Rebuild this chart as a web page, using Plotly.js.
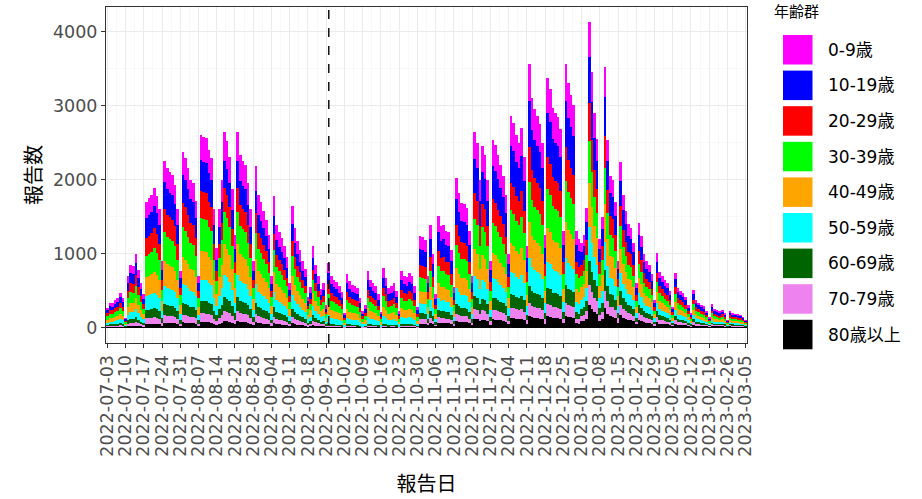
<!DOCTYPE html>
<html><head><meta charset="utf-8">
<script src="https://cdn.plot.ly/plotly-3.0.1.min.js"></script>
<style>html,body{margin:0;padding:0;background:#fff}#chart{width:922px;height:499px}</style>
</head><body><div id="chart"></div>
<script>
const ageGroups = ['0-9歳','10-19歳','20-29歳','30-39歳','40-49歳','50-59歳','60-69歳','70-79歳','80歳以上'];
const groupColors = ['#FF00FF','#0000FF','#FF0000','#00FF00','#FFA500','#00FFFF','#006400','#EE82EE','#000000'];
const firstDate = '2022-07-03';
const boundaryDate = '2022-09-26';
const yTicks = [0,1000,2000,3000,4000];

const age0_9 = [35,44,43,49,52,61,52, 18,91,111,108,130,101,78, 59,221,227,234,246,231,208, 117,293,280,273,267,251,208, 99,309,298,280,260,254,222, 91,338,335,333,312,298,208, 162,240,300,398,378,345,282, 188,398,350,338,330,293,240, 135,327,270,255,237,218,188, 105,267,209,194,182,165,143, 90,248,203,176,158,135,120, 63,83,165,128,105,78,90, 45,145,116,107,102,92,79, 33,119,104,96,92,89,66, 38,50,126,107,99,92,74, 36,134,111,89,92,99,83, 38,126,116,112,122,116,92, 46,173,171,167,98,195,140, 63,211,192,195,182,181,147, 77,283,255,236,234,227,182, 98,371,350,280,343,328,280, 126,356,346,326,308,287,252, 140,400,388,364,350,378,322, 154,498,434,413,400,386,350, 175,472,452,416,406,399,377, 182,500,462,441,421,182,168, 132,144,186,475,397,334,293, 138,173,406,292,236,230,196, 104,258,207,182,161,155,132, 69,163,143,115,104,98,83, 44,116,87,81,74,69,58, 32,85,62,58,54,48,35, 23,59,44,39,36,33,26, 16,36,29,28,25,28,23, 12,26,23,22,21,20,17, 12];
const age10_19 = [44,53,53,60,64,76,64, 21,112,137,133,160,125,96, 73,272,281,288,303,285,256, 144,362,344,336,330,309,256, 123,381,367,344,320,313,274, 112,416,413,410,384,367,256, 151,224,280,371,353,322,263, 175,371,326,315,308,273,224, 126,305,252,238,221,203,175, 98,249,195,181,169,154,133, 84,231,189,164,147,126,112, 59,77,154,119,98,73,84, 42,150,119,111,105,95,82, 34,122,107,99,95,92,68, 39,51,130,111,102,95,77, 37,138,115,92,95,102,85, 39,130,119,116,126,119,95, 48,216,214,208,123,243,175, 79,263,240,243,228,226,184, 96,354,319,295,292,284,228, 123,464,438,350,429,410,350, 158,445,432,408,385,359,315, 175,501,485,455,438,473,403, 193,623,543,516,501,483,438, 219,590,565,520,508,499,471, 228,625,578,551,527,228,210, 173,188,243,620,518,435,383, 180,225,530,381,308,300,255, 135,337,270,237,210,203,173, 90,212,186,150,135,128,108, 57,152,114,105,96,90,75, 42,111,81,75,71,63,45, 30,77,57,51,47,44,35, 21,47,38,36,33,37,30, 15,34,30,29,27,26,23, 15];
const age20_29 = [38,47,46,53,56,66,56, 19,98,119,116,140,109,84, 63,238,245,252,265,249,224, 126,316,301,294,288,270,224, 107,333,321,301,280,273,239, 98,364,361,358,336,321,224, 130,192,240,318,302,276,226, 150,318,280,270,264,234,192, 108,262,216,204,190,174,150, 84,214,167,155,145,132,114, 72,198,162,140,126,108,96, 50,66,132,102,84,62,72, 36,123,98,91,87,78,67, 28,101,88,81,78,76,56, 32,42,107,91,84,78,63, 31,113,95,76,78,84,70, 32,107,98,95,104,98,78, 39,161,159,155,91,181,130, 59,196,178,181,169,168,137, 72,263,237,219,217,211,169, 91,345,325,260,319,304,260, 117,330,321,303,286,267,234, 130,372,360,338,325,351,299, 143,463,403,384,372,359,325, 163,438,420,386,377,371,350, 169,464,429,410,391,169,156, 144,156,203,516,431,363,319, 150,188,441,318,256,250,213, 113,281,225,198,175,169,144, 75,177,155,125,113,106,90, 48,126,95,88,80,75,63, 35,93,68,63,59,53,38, 25,64,48,43,39,36,29, 18,39,31,30,28,31,25, 13,28,25,24,23,21,19, 13];
const age30_39 = [46,57,56,64,68,80,68, 23,119,145,141,170,133,102, 77,289,298,306,321,303,272, 153,384,366,357,350,328,272, 130,405,389,366,340,332,291, 119,442,439,435,408,389,272, 178,264,330,437,416,380,310, 206,437,384,371,363,322,264, 149,360,297,281,261,239,206, 116,294,229,213,200,182,157, 99,272,223,193,173,149,132, 69,91,182,140,116,86,99, 50,158,126,117,112,101,86, 36,130,113,104,101,97,72, 41,54,138,117,108,101,81, 40,146,122,97,101,108,90, 41,138,126,122,133,126,101, 50,191,189,184,109,215,155, 70,233,212,215,202,200,163, 85,313,282,261,259,251,202, 109,411,388,310,380,363,310, 140,394,383,361,341,318,279, 155,443,429,403,388,419,357, 171,552,481,457,443,428,388, 194,522,501,460,450,442,417, 202,553,512,488,467,202,186, 155,169,219,558,466,392,344, 162,203,477,343,277,270,230, 122,303,243,213,189,182,155, 81,191,167,135,122,115,97, 51,136,103,95,86,81,68, 38,100,73,68,63,57,41, 27,70,51,46,42,39,31, 19,43,34,32,30,33,27, 14,30,27,26,24,23,20, 14];
const age40_49 = [41,50,50,56,60,71,60, 20,105,128,125,150,117,90, 68,255,263,270,284,267,240, 135,339,323,315,309,290,240, 115,357,344,323,300,293,257, 105,390,387,384,360,344,240, 167,248,310,411,391,357,291, 194,411,361,349,341,302,248, 140,338,279,264,245,225,194, 109,276,215,200,188,171,147, 93,256,209,181,163,140,124, 65,85,171,132,109,81,93, 47,136,109,101,96,87,74, 31,112,98,90,87,84,62, 36,47,119,101,93,87,70, 34,126,105,84,87,93,78, 36,119,109,105,115,109,87, 43,167,165,161,95,188,135, 61,203,185,188,176,174,142, 74,273,246,227,225,219,176, 95,358,338,270,331,316,270, 122,343,333,315,297,277,243, 135,386,374,351,338,365,311, 149,481,419,398,386,373,338, 169,455,436,401,392,385,363, 176,482,446,425,406,176,162, 167,181,235,599,500,421,370, 174,218,512,368,297,290,247, 131,326,261,229,203,196,167, 87,205,180,145,131,123,104, 55,146,110,102,93,87,73, 41,107,78,73,68,61,44, 29,75,55,49,45,42,33, 20,46,36,35,32,36,29, 15,33,29,28,26,25,22, 15];
const age50_59 = [30,37,36,41,44,52,44, 15,77,94,91,110,86,66, 50,187,193,198,208,196,176, 99,249,237,231,227,212,176, 84,262,252,237,220,215,188, 77,286,284,282,264,252,176, 124,184,230,305,290,265,216, 144,305,268,259,253,224,184, 104,251,207,196,182,167,144, 81,205,160,148,139,127,109, 69,190,155,135,121,104,92, 48,63,127,98,81,60,69, 35,106,84,78,74,67,58, 24,86,76,70,67,65,48, 28,36,92,78,72,67,54, 26,97,81,65,67,72,60, 28,92,84,82,89,84,67, 34,130,128,125,74,146,105, 47,158,144,146,137,135,110, 58,212,191,177,175,170,137, 74,278,263,210,257,246,210, 95,267,259,245,231,215,189, 105,300,291,273,263,284,242, 116,374,326,310,300,290,263, 131,354,339,312,305,299,282, 137,375,347,331,316,137,126, 127,138,178,454,380,319,281, 132,165,388,279,226,220,187, 99,247,198,174,154,149,127, 66,156,136,110,99,94,79, 42,111,84,77,70,66,55, 31,81,59,55,52,46,33, 22,57,42,37,34,32,25, 15,35,28,26,24,27,22, 11,25,22,21,20,19,17, 11];
const age60_69 = [18,22,21,24,26,31,26, 9,46,55,54,65,51,39, 29,111,114,117,123,116,104, 59,147,140,137,134,125,104, 50,155,149,140,130,127,111, 46,169,168,166,156,149,104, 76,112,140,186,176,161,132, 88,186,163,158,154,137,112, 63,153,126,119,111,102,88, 49,125,97,90,85,77,67, 42,116,95,82,74,63,56, 29,39,77,60,49,36,42, 21,35,28,26,25,22,19, 8,29,25,23,22,22,16, 9,12,31,26,24,22,18, 9,32,27,22,22,24,20, 9,31,28,27,30,28,22, 11,80,79,77,46,90,65, 29,98,89,90,85,84,68, 36,131,118,110,109,105,85, 46,172,163,130,159,152,130, 59,165,161,151,143,133,117, 65,186,180,169,163,176,150, 72,231,202,192,186,179,163, 81,219,210,193,189,185,175, 85,232,215,205,196,85,78, 92,100,130,330,276,232,204, 96,120,282,203,164,160,136, 72,180,144,126,112,108,92, 48,113,99,80,72,68,58, 30,81,61,56,51,48,40, 22,59,43,40,38,34,24, 16,41,30,27,25,23,18, 11,25,20,19,18,20,16, 8,18,16,15,14,14,12, 8];
const age70_79 = [12,15,15,17,18,21,18, 6,32,38,37,45,35,27, 20,77,79,81,85,80,72, 41,102,97,95,93,87,72, 34,107,103,97,90,88,77, 32,117,116,115,108,103,72, 54,80,100,133,126,115,94, 63,133,117,113,110,98,80, 45,109,90,85,79,73,63, 35,89,70,65,61,55,48, 30,83,68,59,53,45,40, 21,28,55,43,35,26,30, 15,18,14,13,12,11,10, 4,14,13,12,11,11,8, 5,6,15,13,12,11,9, 4,16,14,11,11,12,10, 5,15,14,14,15,14,11, 6,62,61,60,35,70,50, 23,75,69,70,65,65,53, 28,101,91,84,84,81,65, 35,133,125,100,123,117,100, 45,127,124,117,110,103,90, 50,143,139,130,125,135,115, 55,178,155,148,143,138,125, 63,169,162,149,145,143,135, 65,179,165,158,151,65,60, 75,81,105,268,224,189,166, 78,98,229,165,133,130,111, 59,146,117,103,91,88,75, 39,92,81,65,59,55,47, 25,66,49,46,42,39,33, 18,48,35,33,31,27,20, 13,33,25,22,20,19,15, 9,20,16,16,14,16,13, 7,15,13,12,12,11,10, 7];
const age80p = [8,10,10,11,12,14,12, 4,21,26,25,30,23,18, 14,51,53,54,57,53,48, 27,68,65,63,62,58,48, 23,71,69,65,60,59,51, 21,78,77,77,72,69,48, 38,56,70,93,88,81,66, 44,93,82,79,77,68,56, 32,76,63,60,55,51,44, 25,62,49,45,42,39,33, 21,58,47,41,37,32,28, 15,19,39,30,25,18,21, 11,9,7,7,6,6,5, 2,7,6,6,6,5,4, 2,3,8,7,6,6,5, 2,8,7,5,6,6,5, 2,8,7,7,7,7,6, 3,56,55,54,32,63,45, 20,68,62,63,59,58,47, 25,91,82,76,75,73,59, 32,119,113,90,110,105,90, 41,114,111,105,99,92,81, 45,129,125,117,113,122,104, 50,160,140,133,129,124,113, 56,152,145,134,131,128,121, 59,161,149,142,135,59,54, 86,94,122,310,259,218,191, 90,113,265,191,154,150,128, 68,168,135,119,105,101,86, 45,106,93,75,68,64,54, 29,76,57,53,48,45,38, 21,56,41,38,35,32,23, 15,39,29,26,23,22,17, 11,24,19,18,17,18,15, 8,17,15,14,14,13,11, 8];

const series = [age0_9, age10_19, age20_29, age30_39, age40_49, age50_59, age60_69, age70_79, age80p];

// daily report dates (categories)
const dates = [];
for (let i = 0; i < age0_9.length; i++) {
  const d = new Date(Date.UTC(2022, 6, 3 + i));
  dates.push(d.toISOString().slice(0, 10));
}

const FONT = 'DejaVu Sans, Noto Sans CJK JP, sans-serif';
const traces = [];
for (let i = series.length - 1; i >= 0; i--) {
  traces.push({
    type: 'bar', x: dates, y: series[i], name: ageGroups[i],
    marker: {color: groupColors[i], line: {width: 0}},
    showlegend: false, hoverinfo: 'x+y+name'
  });
}

// plot-area pixel geometry
const W = 922, H = 499, PL = 106, PR = 747, PT = 7, PB = 343;
const px2x = p => (p - PL) / (PR - PL);
const px2y = p => (PB - p) / (PB - PT);

const shapes = [{
  type: 'line', xref: 'x', yref: 'paper', x0: boundaryDate, x1: boundaryDate, y0: 0, y1: 1,
  line: {color: '#000', width: 1.4, dash: 'dash'}, layer: 'above'
}];
const annotations = [{
  xref: 'paper', yref: 'paper', x: px2x(772), y: px2y(12), xanchor: 'left', yanchor: 'middle',
  text: '年齢群', showarrow: false, font: {family: FONT, size: 15, color: '#000'}
}];
const keyTop = 35, keyStep = 35.6, keySize = 29.5, keyLeft = 783;
ageGroups.forEach((g, i) => {
  const top = keyTop + i * keyStep;
  shapes.push({type: 'rect', xref: 'paper', yref: 'paper',
    x0: px2x(keyLeft), x1: px2x(keyLeft + keySize), y0: px2y(top + keySize), y1: px2y(top),
    fillcolor: groupColors[i], line: {width: 0}});
  annotations.push({xref: 'paper', yref: 'paper', x: px2x(826), y: px2y(top + keySize / 2),
    xanchor: 'left', yanchor: 'middle', text: g, showarrow: false,
    font: {family: FONT, size: 17, color: '#000'}});
});

const layout = {
  width: W, height: H,
  margin: {l: PL, r: W - PR, t: PT, b: H - PB, pad: 0},
  paper_bgcolor: '#fff', plot_bgcolor: '#fff',
  barmode: 'stack', bargap: 0,
  showlegend: false,
  font: {family: FONT, color: '#000'},
  xaxis: {
    type: 'date', range: ['2022-07-02 12:00', '2023-03-05 12:00'],
    tick0: firstDate, dtick: 7 * 86400000, tickformat: '%Y-%m-%d', tickangle: -90,
    ticks: 'outside', ticklen: 4, tickwidth: 1, tickcolor: '#333',
    tickfont: {family: FONT, size: 17.5, color: '#4D4D4D'},
    showgrid: true, gridcolor: '#EBEBEB', gridwidth: 1,
    minor: {tick0: '2022-07-06 12:00', dtick: 7 * 86400000, showgrid: true, gridcolor: '#F4F4F4', gridwidth: 0.6},
    showline: true, mirror: true, linecolor: '#333', linewidth: 1,
    zeroline: false, automargin: false,
    title: {text: '報告日', font: {family: FONT, size: 20, color: '#000'}, standoff: 21}
  },
  yaxis: {
    range: [-206.5, 4336.5], tickvals: yTicks, ticktext: yTicks.map(String),
    ticks: 'outside', ticklen: 4, tickwidth: 1, tickcolor: '#333',
    tickfont: {family: FONT, size: 17.5, color: '#4D4D4D'},
    showgrid: true, gridcolor: '#EBEBEB', gridwidth: 1,
    minor: {dtick: 500, showgrid: true, gridcolor: '#F4F4F4', gridwidth: 0.6},
    showline: true, mirror: true, linecolor: '#333', linewidth: 1,
    zeroline: false, automargin: false,
    title: {text: '報告数', font: {family: FONT, size: 20, color: '#000'}, standoff: 5}
  },
  shapes: shapes,
  annotations: annotations
};

Plotly.newPlot('chart', traces, layout, {displayModeBar: false, staticPlot: true});
</script>
</body></html>
